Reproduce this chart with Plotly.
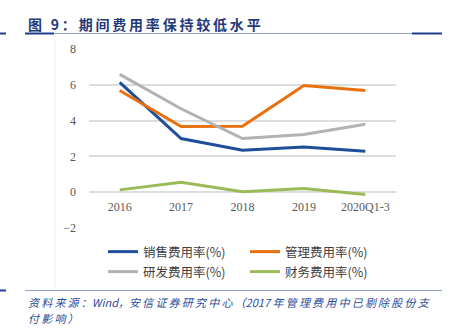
import plotly.graph_objects as go

# Period expense ratios (%)
categories = ["2016", "2017", "2018", "2019", "2020Q1-3"]
selling = [6.13, 3.00, 2.35, 2.52, 2.29]
admin = [5.68, 3.67, 3.68, 5.96, 5.68]
rnd = [6.58, 4.66, 3.00, 3.22, 3.80]
finance = [0.13, 0.56, 0.02, 0.20, -0.13]
y_ticks = [-2, 0, 2, 4, 6, 8]

series = [
    ("销售费用率(%)", selling, "#1F4E9A"),
    ("管理费用率(%)", admin, "#E8700F"),
    ("研发费用率(%)", rnd, "#B2B2B2"),
    ("财务费用率(%)", finance, "#9BBB59"),
]

W, H = 452, 330
L, R, T, B = 89, 56, 49, 102
PW, PH = W - L - R, H - T - B


def px_x(p):
    return (p - L) / PW


def px_y(p):
    return (H - B - p) / PH


def spaced(s, sep="\u2009"):
    return sep.join(s)


serif = "Liberation Serif, Times New Roman, serif"
cjk = "Noto Sans CJK SC"

# legend slots: two columns, two rows
legend_pos = [(103, 252), (245, 252), (103, 272), (245, 272)]
legend_ids = ["legend", "legend2", "legend3", "legend4"]

fig = go.Figure()
for (name, vals, color), lid in zip(series, legend_ids):
    fig.add_trace(go.Scatter(
        x=categories, y=vals, name=name, mode="lines",
        line=dict(color=color, width=3), legend=lid,
    ))

layout_legends = {}
for lid, (lx, ly) in zip(legend_ids, legend_pos):
    layout_legends[lid] = dict(
        orientation="h", x=px_x(lx), y=px_y(ly), xanchor="left", yanchor="middle",
        bgcolor="rgba(0,0,0,0)", itemwidth=30,
        font=dict(family=cjk, size=12.5, color="#404040"),
    )

fig.update_layout(
    width=W, height=H,
    margin=dict(l=L, r=R, t=T, b=B),
    paper_bgcolor="white", plot_bgcolor="white",
    xaxis=dict(
        type="category", range=[-0.5, 4.5], anchor="free",
        position=(0 - y_ticks[0]) / (y_ticks[-1] - y_ticks[0]),
        showgrid=False, zeroline=False, showline=False, ticks="",
        ticklabelstandoff=6,
        tickfont=dict(family=serif, size=12, color="#595959"),
    ),
    yaxis=dict(
        range=[y_ticks[0], y_ticks[-1]], tickvals=y_ticks,
        showgrid=True, gridcolor="#DDDDDD", gridwidth=1.5,
        zeroline=False, showline=False, ticks="",
        ticklabelstandoff=12,
        tickfont=dict(family=serif, size=12, color="#595959"),
    ),
    showlegend=True,
    **layout_legends,
)

# Header title and rules
fig.add_annotation(
    xref="paper", yref="paper", x=px_x(26), y=px_y(23.5),
    xanchor="left", yanchor="middle", showarrow=False,
    text="<b>" + spaced("图 9：期间费用率保持较低水平") + "</b>",
    font=dict(family=cjk, size=14, color="#1F3A78"),
)
line_light = "#8EA3CC"
line_dark = "#1F3D8C"
rules = [
    (25, 412, 33.5, line_light, 1),
    (0, 6, 33.5, line_dark, 2),
    (25, 54, 33.5, line_dark, 2),
    (412, 442, 33.5, line_dark, 2),
    (25, 442, 290.5, line_light, 1),
    (0, 6, 290.5, line_dark, 2),
]
for x0, x1, yy, col, w in rules:
    fig.add_shape(type="line", xref="paper", yref="paper",
                  x0=px_x(x0), x1=px_x(x1), y0=px_y(yy), y1=px_y(yy),
                  line=dict(color=col, width=w))
# faint chart frame edge
fig.add_shape(type="line", xref="paper", yref="paper",
              x0=px_x(55), x1=px_x(55), y0=px_y(35), y1=px_y(289),
              line=dict(color="#F0F0F0", width=1))

# Source note
fig.add_annotation(
    xref="paper", yref="paper", x=px_x(26), y=px_y(302),
    xanchor="left", yanchor="middle", showarrow=False,
    text="<i>" + spaced("资料来源：") + "Wind，" + spaced("安信证券研究中心（") + "2017 "
         + spaced("年管理费用中已剔除股份支") + "</i>",
    font=dict(family=cjk, size=11, color="#2B4C9B"),
)
fig.add_annotation(
    xref="paper", yref="paper", x=px_x(26), y=px_y(318),
    xanchor="left", yanchor="middle", showarrow=False,
    text="<i>" + spaced("付影响）") + "</i>",
    font=dict(family=cjk, size=11, color="#2B4C9B"),
)

fig.write_html("out.html")
